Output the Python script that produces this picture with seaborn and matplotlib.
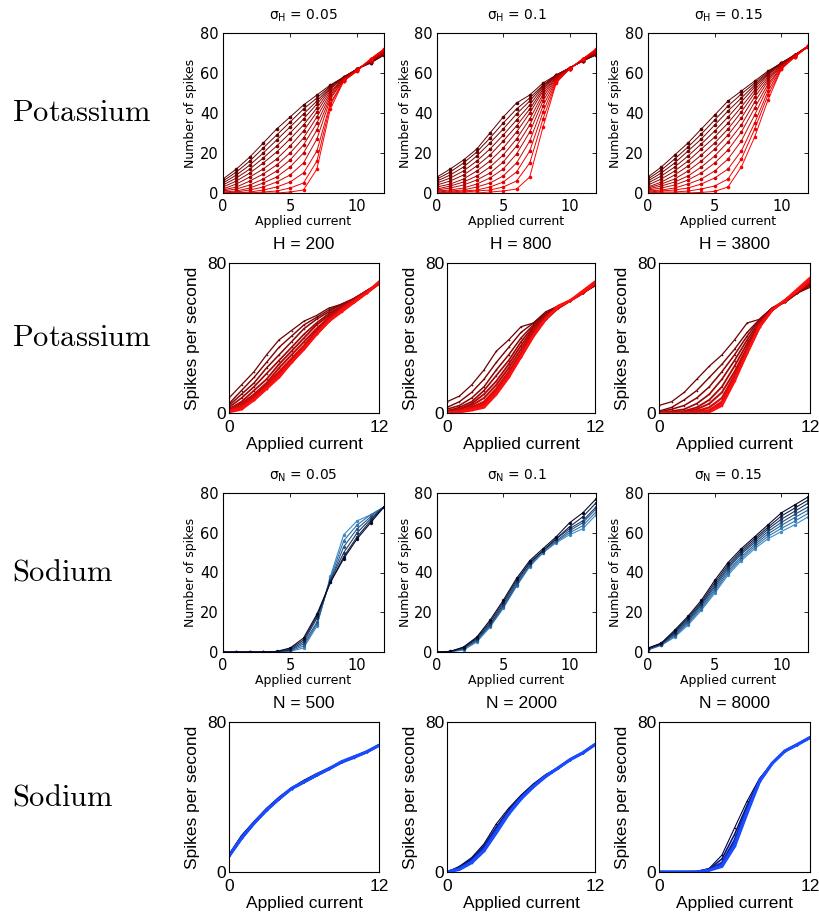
import numpy as np
import pandas as pd
import matplotlib
matplotlib.use("Agg")
import matplotlib.pyplot as plt
import seaborn as sns
from matplotlib.colors import LinearSegmentedColormap, to_hex

# Applied current grid shared by all curves
CURRENT = [0, 1, 2, 3, 4, 5, 6, 7, 8, 9, 10, 11, 12]

# ---- Potassium, spike counts for three noise levels (dark -> bright curves)
K_SIGMA_005 = [
    [7, 12, 18, 25, 32, 38, 44, 49, 54, 58, 62, 65, 69],
    [6, 10.5, 16, 22.5, 29, 35.5, 42, 47.5, 53.5, 58, 62, 65, 69],
    [5, 9, 14, 20, 26.5, 33, 39.5, 46, 53, 58, 62, 65.5, 69],
    [4, 7.5, 12, 17.5, 23.5, 30, 37, 44.5, 52.5, 57.5, 62, 65.5, 69.5],
    [3, 6, 10, 15, 20.5, 27, 34, 42.5, 52, 57.5, 62, 65.5, 69.5],
    [2, 4.5, 8, 12, 17, 23.5, 31, 40.5, 51, 57, 62, 66, 70],
    [1.5, 3, 6, 9.5, 14, 20, 27.5, 38, 50, 57, 62, 66, 70],
    [1, 2, 4, 7, 11, 16.5, 24, 35, 49, 57, 62, 66, 70.5],
    [0.5, 1, 2.5, 5, 8, 13, 20, 31.5, 48, 56.5, 61.5, 66.5, 71],
    [0, 0.5, 1.5, 3, 5.5, 9, 15, 27, 47, 56.5, 61.5, 66.5, 71],
    [0, 0, 0.5, 1.5, 3, 5.5, 10, 21, 45, 56, 61.5, 67, 71.5],
    [0, 0, 0, 0.5, 1, 2.5, 5, 16, 44, 56, 61, 67, 72],
    [0, 0, 0, 0, 0, 0.5, 1.5, 12, 42, 56, 61, 67, 72],
]
K_SIGMA_010 = [
    [8, 12, 16.5, 22, 30, 38, 45, 49, 55, 59, 62.5, 66, 69],
    [7, 10.5, 15, 20.5, 27.5, 35, 42, 47.5, 54, 59, 62.5, 66, 69],
    [6, 9, 13, 18.5, 25, 32, 39.5, 46, 53.5, 59, 62.5, 66, 69.5],
    [5, 7.5, 11, 16, 22, 29, 36.5, 44, 53, 58.5, 62.5, 66, 69.5],
    [4, 6, 9, 13.5, 19, 26, 33.5, 42, 52, 58.5, 62.5, 66, 70],
    [3, 4.5, 7, 11, 16, 22.5, 30.5, 40, 51, 58, 62.5, 66.5, 70],
    [2, 3.5, 5.5, 8.5, 13, 19, 27, 37, 49.5, 58, 62.5, 66.5, 70.5],
    [1.5, 2.5, 4, 6.5, 10, 15.5, 23.5, 34, 48, 57.5, 62, 66.5, 70.5],
    [1, 1.5, 2.5, 4.5, 7.5, 12, 19.5, 30.5, 46, 57, 62, 67, 71],
    [0.5, 1, 1.5, 3, 5, 8.5, 15, 26, 43.5, 56.5, 62, 67, 71],
    [0, 0.5, 1, 1.5, 3, 5.5, 10.5, 21, 40.5, 56, 62, 67, 71.5],
    [0, 0, 0.5, 1, 1.5, 3, 6, 15, 37, 55.5, 62, 67, 72],
    [0, 0, 0, 0, 0.5, 1, 2, 8, 33, 55, 62, 67, 72],
]
K_SIGMA_015 = [
    [8, 13, 19, 25, 32, 39, 46, 51, 56, 61, 65, 69, 73],
    [7, 11.5, 17, 23, 29.5, 36.5, 43.5, 49.5, 55, 60.5, 65, 69, 73],
    [6, 10, 15, 21, 27, 34, 41, 47.5, 54, 60, 65, 69, 73],
    [5, 8.5, 13, 18.5, 24.5, 31, 38, 45.5, 53, 59.5, 64.5, 69, 73],
    [4, 7, 11, 16, 22, 28, 35, 43, 51.5, 59, 64.5, 69, 73.5],
    [3, 5.5, 9, 13.5, 19, 25, 32, 40.5, 50, 58, 64, 69, 73.5],
    [2.5, 4.5, 7, 11, 16, 22, 29, 37.5, 48, 57, 64, 69, 73.5],
    [2, 3.5, 5.5, 8.5, 13, 18.5, 25.5, 34, 45.5, 56, 63.5, 68.5, 73.5],
    [1.5, 2.5, 4, 6.5, 10, 15, 21.5, 30.5, 42.5, 54.5, 63, 68.5, 73.5],
    [1, 1.5, 2.5, 4.5, 7, 11, 17, 26, 39, 53, 63, 68.5, 73.5],
    [0.5, 1, 1.5, 2.5, 4.5, 7.5, 12, 21, 35, 51, 62.5, 68, 73.5],
    [0, 0.5, 0.5, 1, 2, 3.5, 7, 17, 32, 49, 62, 68, 73.5],
    [0, 0, 0, 0, 0.3, 0.8, 3, 13, 28, 46.5, 62, 68, 73],
]

# ---- Potassium, firing rates for three channel counts
K_H200 = [
    [8, 15, 22, 31, 39, 44, 49, 52, 56, 58, 61, 65, 69],
    [5, 12, 19, 27, 35, 41, 47, 51, 55, 58, 61, 65, 69],
    [4, 10, 16, 24, 31, 38, 45, 50, 54, 58, 61, 65, 69],
    [3, 8, 14, 21, 28, 35, 42, 48, 53, 57, 61, 65, 69],
    [2, 6, 12, 18, 26, 33, 40, 47, 52, 57, 61, 65, 69],
    [2, 5, 10, 16, 24, 31, 38, 45, 51, 56, 60, 65, 69],
    [1, 4, 9, 15, 22, 29, 36, 44, 50, 56, 60, 65, 69],
    [1, 3, 8, 14, 21, 28, 35, 43, 50, 55, 60, 64, 69],
    [1, 3, 7, 13, 20, 27, 35, 42, 49, 55, 59, 64, 69],
    [0.5, 2, 7, 13, 19, 27, 34, 42, 49, 54, 59, 64, 70],
]
K_H800 = [
    [6, 9, 15, 23, 33, 39, 46, 48, 54, 57, 60, 64, 68],
    [3, 6, 11, 18, 27, 35, 43, 48, 53, 57, 60, 64, 68],
    [2, 4, 8, 14, 23, 31, 40, 47, 53, 57, 60, 64, 68],
    [1, 3, 6, 12, 20, 28, 38, 46, 52, 57, 60, 64, 68],
    [1, 2, 5, 10, 17, 26, 36, 45, 52, 56, 60, 64, 69],
    [0.5, 2, 4, 8, 15, 24, 34, 44, 51, 56, 60, 64, 69],
    [0.5, 1, 3, 6, 13, 22, 32, 43, 51, 56, 60, 64, 69],
    [0, 1, 2, 5, 12, 21, 31, 42, 50, 56, 60, 64, 69],
    [0, 1, 2, 4, 11, 20, 30, 41, 50, 56, 60, 64, 69],
    [0, 0.5, 1.5, 3, 10, 19, 30, 41, 50, 57, 60, 65, 70],
]
K_H3800 = [
    [4, 6, 11, 18, 25, 31, 39, 48, 50, 56, 59, 64, 67],
    [1, 3, 7, 12, 19, 26, 34, 43, 50, 56, 59, 64, 68],
    [0.5, 2, 4, 8, 14, 22, 31, 41, 50, 56, 59, 64, 68],
    [0, 1, 2, 5, 10, 18, 28, 39, 49, 56, 60, 64, 69],
    [0, 0.5, 1, 3, 7, 14, 25, 37, 48, 55, 60, 65, 69],
    [0, 0, 0.5, 2, 5, 11, 22, 35, 48, 55, 60, 65, 70],
    [0, 0, 0, 1, 3, 8, 20, 34, 47, 55, 60, 65, 70],
    [0, 0, 0, 0.5, 1.5, 6, 19, 33, 47, 55, 60, 65, 71],
    [0, 0, 0, 0, 1, 5, 18, 32, 46, 55, 60, 65, 71],
    [0, 0, 0, 0, 0.5, 4, 17, 32, 46, 55, 60, 66, 72],
]

# ---- Sodium, spike counts for three noise levels (dark -> light curves)
NA_SIGMA_005 = [
    [0, 0, 0, 0, 0.3, 2, 7, 19, 35, 47, 57, 65, 73],
    [0, 0, 0, 0, 0.2, 1.5, 6, 18, 35, 48, 58, 66, 73],
    [0, 0, 0, 0, 0.1, 1, 5, 17, 36, 50, 60, 67, 73],
    [0, 0, 0, 0, 0, 0.8, 4, 15, 36, 53, 62, 68, 73],
    [0, 0, 0, 0, 0, 0.5, 3, 14, 37, 56, 64, 69, 73],
    [0, 0, 0, 0, 0, 0.3, 2, 13, 38, 59, 66, 69, 73],
]
NA_SIGMA_010 = [
    [0, 0.3, 2.5, 7.5, 16, 26, 37, 46, 52, 58, 65, 70, 77],
    [0, 0.3, 2.2, 7, 15, 25, 36, 45, 51, 57, 63, 68, 75],
    [0, 0.2, 2, 6.5, 14, 24, 35, 45, 51, 57, 62, 66, 73],
    [0, 0.2, 1.7, 6, 13.5, 23, 34, 44, 51, 56, 61, 65, 72],
    [0, 0.1, 1.4, 5.5, 13, 22.5, 33.5, 43.5, 50, 55.5, 60, 63.5, 70.5],
    [0, 0.1, 1, 5, 12.5, 22, 33, 43, 50, 55, 59, 62, 69],
]
NA_SIGMA_015 = [
    [2, 4.5, 11, 18, 26, 36, 45, 52, 58, 64, 70, 74, 78],
    [1.8, 4.3, 10.3, 17.2, 25, 34.8, 43.8, 51, 57, 62.8, 68.4, 72.4, 76.4],
    [1.6, 4.1, 9.7, 16.4, 24.2, 33.6, 42.8, 50, 56, 61.8, 66.8, 70.8, 74.8],
    [1.5, 3.9, 9.2, 15.7, 23.5, 32.6, 41.8, 49.3, 55, 60.6, 65.2, 69.2, 73],
    [1.3, 3.7, 8.6, 15, 22.6, 31.5, 40.7, 48, 54, 59.4, 63.7, 67.6, 71.4],
    [1.2, 3.5, 8, 14.3, 21.8, 30.5, 39.7, 47, 53, 58.2, 62.2, 65.8, 69.7],
    [1, 3.4, 7.5, 13.5, 21, 29.5, 38.7, 46, 52, 57, 60.6, 64, 68],
]

# ---- Sodium, firing rates for three channel counts
NA_N500 = [
    [9.5, 19.5, 27, 34, 40, 45, 49, 52.5, 55.5, 58.5, 61.5, 64.5, 67.5],
    [9, 19, 26.5, 33.5, 39.5, 44.5, 48.5, 52, 55.5, 58.5, 61.5, 64, 67.5],
    [8.5, 18.5, 26, 33, 39, 44.5, 48, 51.5, 55, 58.5, 61.5, 64, 67.5],
    [8.5, 18, 26, 33, 39, 44.5, 48, 51.5, 55, 58.5, 61, 64, 67.5],
    [8.5, 18, 26, 33, 39, 44.5, 48, 51.7, 55, 58.8, 61.4, 64, 67.6],
]
NA_N2000 = [
    [0, 3, 7.7, 15, 25.7, 34, 41, 47, 52, 55.5, 60, 63.5, 68],
    [0, 2.5, 7, 14, 24, 33, 40.5, 46.5, 51.5, 55.5, 60, 63.5, 68],
    [0, 2, 6, 13, 23, 32, 40, 46, 51.5, 55.5, 60, 63.5, 68],
    [0, 1.7, 5.5, 12, 22, 31.5, 39.5, 45.5, 51, 55.5, 60, 63.5, 68],
    [0, 1.4, 5, 11.3, 21, 31, 39, 45.5, 51, 55.4, 60, 63.5, 68],
]
NA_N8000 = [
    [0, 0, 0, 0.3, 2, 9, 23.5, 37.8, 50, 58, 64.5, 68, 71.7],
    [0, 0, 0, 0.2, 1.5, 7, 20, 35.5, 49.5, 58, 64.5, 68, 71.7],
    [0, 0, 0, 0.1, 1.2, 5, 17, 34, 49, 58, 64.5, 68, 71.7],
    [0, 0, 0, 0, 1, 4, 15, 32.5, 48.5, 58, 64.5, 68, 71.7],
    [0, 0, 0, 0, 1, 3, 13.7, 31.5, 48.5, 58, 64.5, 68, 71.7],
]

ROW_NAMES = ["Potassium", "Potassium", "Sodium", "Sodium"]
TITLES = [
    [r"$\sigma_{\mathrm{H}}$ = 0.05", r"$\sigma_{\mathrm{H}}$ = 0.1", r"$\sigma_{\mathrm{H}}$ = 0.15"],
    ["H = 200", "H = 800", "H = 3800"],
    [r"$\sigma_{\mathrm{N}}$ = 0.05", r"$\sigma_{\mathrm{N}}$ = 0.1", r"$\sigma_{\mathrm{N}}$ = 0.15"],
    ["N = 500", "N = 2000", "N = 8000"],
]
PANELS = [
    [K_SIGMA_005, K_SIGMA_010, K_SIGMA_015],
    [K_H200, K_H800, K_H3800],
    [NA_SIGMA_005, NA_SIGMA_010, NA_SIGMA_015],
    [NA_N500, NA_N2000, NA_N8000],
]

sns.set_theme(style="white")
plt.rcParams.update({
    "font.family": ["Liberation Sans", "DejaVu Sans"],
    "mathtext.fontset": "custom",
    "mathtext.rm": "DejaVu Sans",
    "mathtext.it": "DejaVu Sans",
    "mathtext.bf": "DejaVu Sans:bold",
    "axes.edgecolor": "black",
    "axes.linewidth": 0.8,
    "text.color": "black",
    "axes.labelcolor": "black",
    "xtick.color": "black",
    "ytick.color": "black",
})

W, H = 819, 918
fig = plt.figure(figsize=(W / 100, H / 100), dpi=100)
fig.patch.set_facecolor("white")

# axes boxes in pixels: (left, top, right, bottom)
ROW_Y = [(33, 193), (263, 413), (493, 652), (722, 872)]
COLS_COUNT = [(223, 384), (437, 596), (648, 808)]
COLS_RATE = [(229, 379), (447, 595), (659, 810)]

# per-row styling: colours, line widths, markers, draw order
ROW_STYLE = [
    dict(dark="#5a0000", bright="#ff0000", lw=(0.7, 0.7), ms=2.6, bright_top=True),
    dict(dark="#6a0000", bright="#ff1010", lw=(0.9, 1.9), ms=1.2, bright_top=True),
    dict(dark="#0a0a28", bright="#3a8ccc", lw=(0.8, 0.8), ms=2.4, bright_top=False),
    dict(dark="#000040", bright="#1a4cff", lw=(0.8, 2.3), ms=1.2, bright_top=True),
]


def long_table(curves):
    rows = []
    for i, ys in enumerate(curves):
        for x, y in zip(CURRENT, ys):
            rows.append((f"c{i:02d}", x, y))
    return pd.DataFrame(rows, columns=["curve", "current", "rate"])


def shades(c0, c1, n):
    cmap = LinearSegmentedColormap.from_list("shade", [c0, c1])
    return [to_hex(cmap(t)) for t in np.linspace(0, 1, n)]


for r in range(4):
    top, bot = ROW_Y[r]
    count_row = r in (0, 2)
    cols = COLS_COUNT if count_row else COLS_RATE
    st = ROW_STYLE[r]
    for c in range(3):
        x0, x1 = cols[c]
        ax = fig.add_axes([x0 / W, (H - bot) / H, (x1 - x0) / W, (bot - top) / H])
        curves = PANELS[r][c]
        df = long_table(curves)
        ids = [f"c{i:02d}" for i in range(len(curves))]
        pal = dict(zip(ids, shades(st["dark"], st["bright"], len(ids))))
        lws = dict(zip(ids, np.linspace(st["lw"][0], st["lw"][1], len(ids))))
        order = ids if st["bright_top"] else ids[::-1]
        sns.lineplot(data=df, x="current", y="rate", hue="curve", size="curve",
                     hue_order=order, size_order=order, palette=pal, sizes=lws,
                     estimator=None, errorbar=None, legend=False, ax=ax,
                     marker="o", markersize=st["ms"], markeredgewidth=0)
        ax.set_xlim(0, 12)
        ax.set_ylim(0, 80)
        for sp in ax.spines.values():
            sp.set_visible(True)
            sp.set_color("black")
            sp.set_linewidth(0.8)
        if count_row:
            ax.set_xticks([0, 5, 10])
            ax.set_yticks([0, 20, 40, 60, 80])
            ax.tick_params(direction="in", length=3, width=0.6, top=True, right=True,
                           labelsize=10.5, pad=3)
            ax.tick_params(axis="x", pad=4)
            for lab in ax.get_xticklabels() + ax.get_yticklabels():
                lab.set_fontfamily("DejaVu Sans")
            ax.set_xlabel("Applied current", fontsize=9, fontfamily="DejaVu Sans")
            ax.set_ylabel("Number of spikes", fontsize=9, fontfamily="DejaVu Sans")
            ax.xaxis.set_label_coords(0.5, -0.14)
            ax.yaxis.set_label_coords(-0.16, 0.5)
            ax.set_title(TITLES[r][c], fontsize=10, pad=10, fontfamily="DejaVu Sans")
        else:
            ax.set_xticks([0, 12])
            ax.set_yticks([0, 80])
            ax.tick_params(direction="in", length=3, width=0.6, labelsize=12.5, pad=2)
            ax.tick_params(axis="x", pad=5)
            ax.set_xlabel("Applied current", fontsize=12.5)
            ax.set_ylabel("Spikes per second", fontsize=12.5)
            ax.xaxis.set_label_coords(0.5, -0.16)
            ax.yaxis.set_label_coords(-0.195, 0.5)
            ax.set_title(TITLES[r][c], fontsize=12.5, pad=10)
    fig.text(12 / W, 1 - ((top + bot) / 2) / H, r"$\mathrm{" + ROW_NAMES[r] + "}$",
             math_fontfamily="cm", fontsize=22, ha="left", va="center")

fig.savefig("out.png", dpi=100, facecolor="white")
